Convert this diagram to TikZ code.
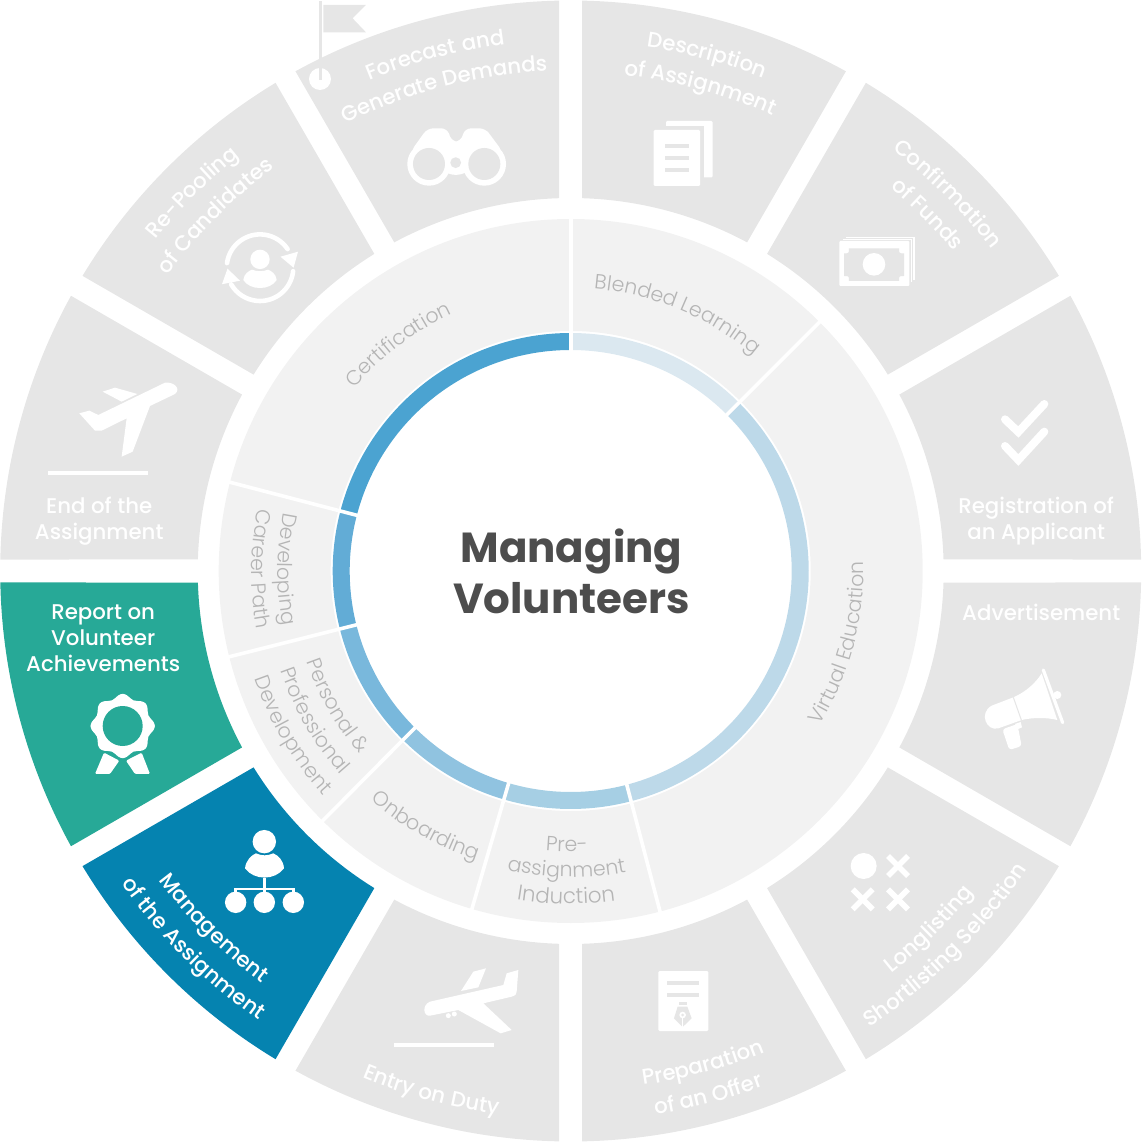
\documentclass[tikz,border=0pt]{standalone}
\usepackage{fontspec}
\setmainfont{Poppins}
\newfontfamily\fmed{Poppins}[UprightFont=* Medium]
\newfontfamily\flig{Poppins}[UprightFont=* Light]
\newfontfamily\fbol{Poppins}[UprightFont=* Bold]
\usetikzlibrary{decorations.text}
\definecolor{sectgray}{HTML}{E6E6E6}
\definecolor{ringgray}{HTML}{F2F2F2}
\definecolor{ringtxt}{HTML}{B5B5B5}
\definecolor{tealc}{HTML}{27A997}
\definecolor{bluec}{HTML}{0583B0}
\definecolor{titlec}{HTML}{4D4D4D}
\definecolor{ba}{HTML}{4BA3D1}
\definecolor{bb}{HTML}{62ACD6}
\definecolor{bc}{HTML}{79B8DC}
\definecolor{bd}{HTML}{90C3E0}
\definecolor{be}{HTML}{A6CFE4}
\definecolor{bf}{HTML}{BDD9E9}
\definecolor{bg}{HTML}{DBE8F0}
\newcommand{\sector}[3]{%
  \pgfmathsetmacro\sA{#1+1.155}\pgfmathsetmacro\sB{#2-1.155}%
  \pgfmathsetmacro\sC{#2-1.77}\pgfmathsetmacro\sD{#1+1.77}%
  \fill[#3] (\sA:570.5) arc[start angle=\sA,end angle=\sB,radius=570.5] -- (\sC:373) arc[start angle=\sC,end angle=\sD,radius=373] -- cycle;}
\newcommand{\annular}[5]{%
  \fill[#5] (#1:#4) arc[start angle=#1,end angle=#2,radius=#4] -- (#2:#3) arc[start angle=#2,end angle=#1,radius=#3] -- cycle;}
\newcommand{\cwtext}[4]{%
  \path[decorate,decoration={text along path,text align={center},text={|#3|#4}}]
    ({#1+45}:#2) arc[start angle={#1+45},end angle={#1-45},radius=#2];}
\newcommand{\ccwtext}[4]{%
  \path[decorate,decoration={text along path,text align={center},text={|#3|#4}}]
    ({#1-45}:#2) arc[start angle={#1-45},end angle={#1+45},radius=#2];}
\def\OT{\fmed\fontsize{21.3}{21.3}\selectfont\color{white}}
\def\RT{\flig\fontsize{20.5}{20.5}\selectfont\color{ringtxt}}
\def\RTb{\flig\fontsize{21.4}{21.4}\selectfont\color{ringtxt}}
\def\ampr{\&}
\tikzset{
  zoomat/.style 2 args={shift={({#1-570.7},{571-#2})},x=0.33333pt,y=-0.33333pt},
  ico/.style={fill=white,draw=none},
  hole/.style={fill=sectgray,draw=none},
  flat/.style={font=\fmed\fontsize{21.3}{26}\selectfont,text=white,align=center,inner sep=0pt},
}
\begin{document}
\begin{tikzpicture}[x=1pt,y=1pt]
\useasboundingbox (-570.7,-571) rectangle (570.3,571);
% outer ring
\sector{60}{90}{sectgray}\sector{30}{60}{sectgray}\sector{0}{30}{sectgray}
\sector{-30}{0}{sectgray}\sector{-60}{-30}{sectgray}\sector{-90}{-60}{sectgray}
\sector{-120}{-90}{sectgray}\sector{-150}{-120}{bluec}\sector{-180}{-150}{tealc}
\sector{150}{180}{sectgray}\sector{120}{150}{sectgray}\sector{90}{120}{sectgray}
% middle ring
\annular{0}{360}{240}{352}{ringgray}
\annular{90}{165.4}{221}{238}{ba}
\annular{165.4}{194.1}{221}{238}{bb}
\annular{194.1}{225.2}{221}{238}{bc}
\annular{225.2}{253.7}{221}{238}{bd}
\annular{253.7}{284.7}{221}{238}{be}
\annular{284.7}{405}{221}{238}{bf}
\annular{45}{90}{221}{238}{bg}
\foreach \a in {90,45,-75.3,-106.3,-134.8,-165.9,165.4}
  \draw[white,line width=3.6pt] (\a:216) -- (\a:353);
% title
\node[font=\fbol\fontsize{42}{51.5}\selectfont,text=titlec,align=center,inner sep=0pt] (title) at (0.7,-0.5) {Managing\\Volunteers};
% outer labels
\cwtext{104.7}{530.5}{\OT}{Forecast and}
\cwtext{104.7}{500.5}{\OT}{Generate Demands}
\cwtext{75.2}{529.5}{\OT}{Description}
\cwtext{75}{498.5}{\OT}{of Assignment}
\cwtext{45}{530}{\OT}{Confirmation}
\cwtext{45}{499}{\OT}{of Funds}
\cwtext{135}{531}{\OT}{Re-Pooling}
\cwtext{135}{500}{\OT}{of Candidates}
\ccwtext{-45}{515}{\OT}{Longlisting}
\ccwtext{-45}{545}{\OT}{Shortlisting Selection}
\ccwtext{-75}{519}{\OT}{Preparation}
\ccwtext{-75.3}{550}{\OT}{of an Offer}
\ccwtext{-105}{548}{\OT}{Entry on Duty}
\ccwtext{-135}{515}{\OT}{Management}
\ccwtext{-135}{547}{\OT}{of the Assignment}
\node[flat] (reg) at (465.5,50) {Registration of\\an Applicant};
\node[flat] (adv) at (470.5,-41) {Advertisement};
\node[flat] (end) at (-471.5,50) {End of the\\Assignment};
\node[flat] (rep) at (-467.5,-67) {Report on\\Volunteer\\Achievements};
% ring labels
\cwtext{127.3}{283}{\RT}{Certification}
\cwtext{67.5}{283}{\RT}{Blended Learning}
\ccwtext{-15}{293}{\RT}{Virtual Education}
\ccwtext{-90.8}{281}{\RT}{Pre-}
\ccwtext{-90.8}{306}{\RT}{assignment}
\ccwtext{-90.8}{333}{\RTb}{Induction}
\ccwtext{-119.6}{304}{\RT}{Onboarding}
\ccwtext{-150}{279}{\RT}{Personal {\ampr}}
\ccwtext{-149.8}{307}{\RT}{Professional}
\ccwtext{-149.5}{334}{\RT}{Development}
\ccwtext{179.6}{293}{\RT}{Developing}
\ccwtext{179.6}{319}{\RT}{Career Path}
% flag and circle
\begin{scope}[zoomat={290}{0}]
  \fill[ico] (90,237) circle[radius=11pt];
  \draw[sectgray,line width=2.4pt] (92,3) -- (92,240);
  \fill[sectgray] (100,15) -- (228,15) -- (188,55) -- (228,97) -- (100,97) -- cycle;
  % binoculars
  \fill[ico,rounded corners=6pt] (362,455) -- (412,385) -- (472,385) -- (485,425) -- (512,425) -- (525,385) -- (586,385) -- (638,455) -- (580,500) -- (497,528) -- (417,500) -- cycle;
  \fill[ico] (417,492) circle[radius=21.7pt];
  \fill[ico] (583,492) circle[radius=21.7pt];
  \fill[hole] (417,492) circle[radius=16pt];
  \fill[hole] (583,492) circle[radius=16pt];
  \fill[hole] (497,488) circle[radius=5.4pt];
\end{scope}
% documents
\begin{scope}[zoomat={580}{80}]
  \fill[ico,rounded corners=1.2pt] (258,123) rectangle (398,292);
  \fill[hole] (208,138) rectangle (372,330);
  \fill[ico,rounded corners=1.2pt] (221,150) rectangle (360,318);
  \fill[hole] (255,192) rectangle (328,204);
  \fill[hole] (255,228) rectangle (328,240);
  \fill[hole] (255,265) rectangle (328,277);
  % banknotes
  \fill[ico] (798,470) rectangle (1005,600);
  \fill[hole] (798,475) rectangle (1000,600);
  \fill[ico] (788,477) rectangle (997,606);
  \fill[hole] (788,481) rectangle (992,606);
  \fill[ico,rounded corners=1pt] (778,483) rectangle (988,618);
  \fill[hole] (807,505) -- (957,505) .. controls (957,520) .. (972,520) -- (972,588) .. controls (957,588) .. (957,603) -- (807,603) .. controls (807,588) .. (792,588) -- (792,520) .. controls (807,520) .. (807,505) -- cycle;
  \fill[ico] (882,553) circle[radius=11.3pt];
\end{scope}
% checks
\begin{scope}[zoomat={985}{390}]
  \draw[white,line width=8pt,line cap=round,miter limit=10] (60,88) -- (100,126) -- (178,42);
  \draw[white,line width=8pt,line cap=round,miter limit=10] (60,168) -- (100,210) -- (178,125);
\end{scope}
% megaphone and crosses
\begin{scope}[zoomat={770}{640}]
  \fill[ico] (665,197) -- (730,172) .. controls (770,155) and (800,125) .. (815,100) -- (862,240) .. controls (830,232) and (790,232) .. (755,240) -- (685,265) .. controls (650,275) and (625,220) .. (665,197) -- cycle;
  \draw[sectgray,line width=1pt] (730,172) -- (754,240);
  \draw[white,line width=3.2pt,line cap=round] (820,90) -- (878,248);
  \fill[ico] (862,165) circle[radius=4pt];
  \fill[ico,rounded corners=3pt] (697,268) -- (742,252) -- (755,318) -- (718,330) -- cycle;
  \fill[ico] (735,252) -- (752,246) -- (756,262) -- (742,268) -- cycle;
  \fill[ico] (281,678) circle[radius=13pt];
  \foreach \p/\q in {384/678,278/778,384/778}{
    \draw[white,line width=5.6pt] (\p-30,\q-30) -- (\p+30,\q+30);
    \draw[white,line width=5.6pt] (\p-30,\q+30) -- (\p+30,\q-30);
  }
\end{scope}
% pen document and landing plane
\begin{scope}[zoomat={380}{950}]
  \fill[ico,rounded corners=1.2pt] (835,63) rectangle (985,243);
  \fill[hole] (862,93) rectangle (957,105);
  \fill[hole] (862,128) rectangle (957,140);
  \fill[hole] (897,157) rectangle (922,164);
  \fill[hole] (893,170) -- (922,170) -- (935,205) -- (908,231) -- (882,205) -- cycle;
  \draw[white,line width=0.9pt] (908,195) -- (908,231);
  \fill[ico] (908,195) circle[radius=3.3pt];
  \fill[hole] (908,195) circle[radius=1.5pt];
  \fill[ico] (150,155) -- (370,105) -- (380,70) -- (415,60) -- (410,125) .. controls (408,135) .. (395,140) -- (310,160) -- (395,240) -- (362,250) -- (235,180) -- (150,197) .. controls (130,200) and (125,165) .. (150,155) -- cycle;
  \fill[ico] (243,123) -- (280,65) -- (318,55) -- (295,112) -- cycle;
  \fill[ico] (205,197) circle[radius=2.5pt];
  \fill[ico] (223,192) circle[radius=2.5pt];
  \fill[ico] (42,279) rectangle (342,291);
\end{scope}
% take-off plane
\begin{scope}[zoomat={30}{100}]
  \fill[ico] (205,945) -- (405,848) .. controls (430,845) and (455,865) .. (435,882) -- (360,918) -- (308,1055) -- (275,1070) -- (290,955) -- (215,992) -- (195,992) -- (148,940) -- (178,932) -- cycle;
  \fill[ico] (218,875) -- (255,863) -- (322,882) -- (275,905) -- cycle;
  \fill[ico] (54,1112) rectangle (354,1124);
\end{scope}
% re-pooling icon
\begin{scope}[shift={({260-570.7},{571-267.7})}]
  \draw[white,line width=4.6pt,line cap=round] (172:33.3) arc[start angle=172,end angle=34,radius=33.3];
  \draw[white,line width=4.6pt,line cap=round] (-6:33.3) arc[start angle=-6,end angle=-150,radius=33.3];
  \fill[ico] (38,16) -- (20.5,11) -- (33.6,0) -- cycle;
  \fill[ico] (-38,-16.5) -- (-32.5,-1) -- (-20,-13) -- cycle;
  \fill[ico] (0,8.3) circle[radius=9.7pt];
  \fill[ico] (-16.7,-12.3) .. controls (-16,-6) and (-11,-3) .. (-8,-2) .. controls (-3,-4) and (3,-4) .. (8,-2) .. controls (11,-3) and (16,-6) .. (16.7,-12.3) .. controls (10,-23) and (-10,-23) .. (-16.7,-12.3) -- cycle;
\end{scope}
% award
\begin{scope}[shift={({122.7-570.7},{571-726})}]
  \fill[ico] plot[smooth cycle,samples=48,domain=0:352.5] (\x:{30+2.2*cos(8*\x)});
  \fill[tealc] (0,0) circle[radius=20pt];
\end{scope}
\begin{scope}[zoomat={0}{570}]
  \fill[ico,rounded corners=1.2pt] (312,548) -- (358,572) -- (330,612) -- (285,612) -- cycle;
  \fill[ico,rounded corners=1.2pt] (425,548) -- (378,572) -- (405,612) -- (450,612) -- cycle;
  % person with team
  \fill[ico] (793,815) circle[radius=11.7pt];
  \fill[ico] (735,895) .. controls (738,870) and (755,855) .. (768,850) .. controls (785,858) and (802,858) .. (820,850) .. controls (835,857) and (850,870) .. (852,895) .. controls (825,932) and (762,932) .. (735,895) -- cycle;
  \draw[white,line width=2.5pt] (793,925) -- (793,975);
  \draw[white,line width=2.5pt] (707,975) -- (707,957) -- (880,957) -- (880,975);
  \fill[ico] (707,997) circle[radius=10.7pt];
  \fill[ico] (793,997) circle[radius=10.7pt];
  \fill[ico] (880,997) circle[radius=10.7pt];
\end{scope}
\end{tikzpicture}
\end{document}
